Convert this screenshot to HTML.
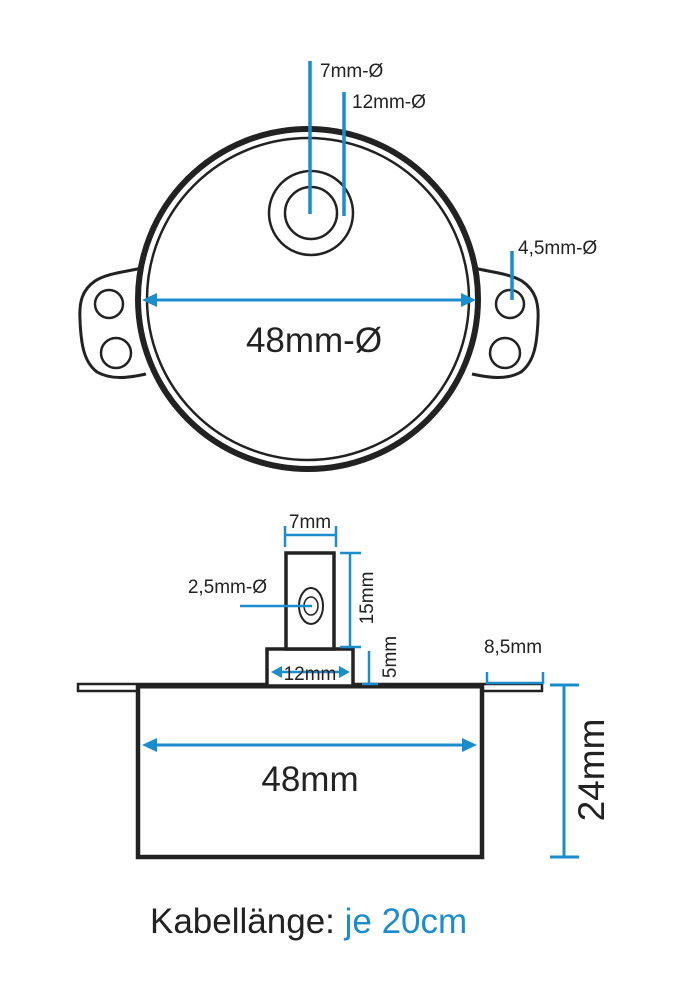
<!DOCTYPE html>
<html><head><meta charset="utf-8"><style>html,body{margin:0;padding:0;background:#fff}svg{display:block}</style></head><body>
<svg width="680" height="1000" viewBox="0 0 680 1000" xmlns="http://www.w3.org/2000/svg" font-family="Liberation Sans, Arial, sans-serif">
<rect width="680" height="1000" fill="#fff"/>
<g fill="#fff" stroke="#222" stroke-width="3">
<path d="M142,268 C125,272 108,273 95,281 C82,290 79,302 80,320 C81,345 84,362 97,372 C111,380 128,378 146,374"/>
<path d="M474,268 C490,272 508,273 522,281 C535,290 539,302 538,320 C537,345 534,362 521,372 C507,380 490,378 472,374"/>
</g>
<circle cx="308" cy="299" r="170" fill="#fff" stroke="#222" stroke-width="6"/>
<circle cx="308" cy="299" r="161" fill="none" stroke="#222" stroke-width="2.5"/>
<g fill="none" stroke="#222" stroke-width="2.5">
<circle cx="109" cy="304" r="14"/><circle cx="116" cy="353" r="15"/>
<circle cx="510" cy="304" r="14"/><circle cx="505" cy="353" r="15"/>
<circle cx="311" cy="213" r="42"/><circle cx="311" cy="213" r="26"/>
</g>
<g stroke="#1b8ccc" stroke-width="3.5">
<line x1="310" y1="61" x2="310" y2="214"/>
<line x1="344" y1="92" x2="344" y2="216"/>
<line x1="512" y1="251" x2="512" y2="300"/>
<line x1="150" y1="300" x2="468" y2="300" stroke-width="3"/>
</g>
<path d="M142,300 L157,293 L157,307z M476,300 L461,293 L461,307z" fill="#1b8ccc"/>
<g fill="#222" font-size="19">
<text x="320" y="77">7mm-Ø</text>
<text x="352" y="108">12mm-Ø</text>
<text x="518" y="254">4,5mm-Ø</text>
</g>
<text x="314" y="352" font-size="35" text-anchor="middle" fill="#222">48mm-Ø</text>

<rect x="78" y="684" width="464" height="7" fill="#fff" stroke="#222" stroke-width="2.5"/>
<rect x="138" y="686" width="344" height="171" fill="#fff" stroke="#222" stroke-width="4.5"/>
<line x1="136" y1="686" x2="484" y2="686" stroke="#222" stroke-width="5"/>
<rect x="267" y="649" width="86" height="37" fill="#fff" stroke="#222" stroke-width="3.5"/>
<rect x="286" y="553" width="48" height="96" fill="#fff" stroke="#222" stroke-width="3.5"/>
<ellipse cx="311" cy="606" rx="12" ry="18" fill="none" stroke="#222" stroke-width="2"/>
<ellipse cx="311" cy="606" rx="7" ry="9" fill="none" stroke="#222" stroke-width="1.5"/>
<g stroke="#1b8ccc" stroke-width="2.5" fill="none">
<line x1="285" y1="526" x2="285" y2="547"/><line x1="336" y1="526" x2="336" y2="547"/>
<line x1="285" y1="535" x2="336" y2="535"/>
<line x1="340" y1="553" x2="361" y2="553"/><line x1="340" y1="647" x2="361" y2="647"/>
<line x1="350" y1="553" x2="350" y2="647"/>
<line x1="369" y1="651" x2="369" y2="684"/><line x1="362" y1="684" x2="378" y2="684"/>
<line x1="240" y1="606" x2="312" y2="606"/>
<line x1="487" y1="672" x2="487" y2="684"/><line x1="543" y1="672" x2="543" y2="684"/>
<line x1="487" y1="683" x2="543" y2="683"/>
<line x1="550" y1="685" x2="579" y2="685" stroke-width="3"/><line x1="550" y1="857" x2="579" y2="857" stroke-width="3"/>
<line x1="564" y1="685" x2="564" y2="857" stroke-width="3"/>
<line x1="278" y1="672" x2="342" y2="672"/>
<line x1="150" y1="745" x2="470" y2="745" stroke-width="3"/>
</g>
<path d="M271,672 L282,666 L282,678z M350,672 L339,666 L339,678z M142,745 L157,738 L157,752z M477,745 L462,738 L462,752z" fill="#1b8ccc"/>
<g fill="#222" font-size="19">
<text x="310" y="528" text-anchor="middle">7mm</text>
<text x="267" y="593" text-anchor="end">2,5mm-Ø</text>
<text x="310" y="680" text-anchor="middle">12mm</text>
<text x="513" y="653" text-anchor="middle">8,5mm</text>
<text transform="translate(373,598) rotate(-90)" text-anchor="middle">15mm</text>
<text transform="translate(396,657) rotate(-90)" text-anchor="middle">5mm</text>
</g>
<text x="310" y="791" font-size="35" text-anchor="middle" fill="#222">48mm</text>
<text transform="translate(604,770) rotate(-90)" font-size="37" text-anchor="middle" fill="#222">24mm</text>
<text x="150" y="933" font-size="35" fill="#222">Kabellänge: <tspan fill="#1b8ccc">je 20cm</tspan></text>
</svg>
</body></html>
